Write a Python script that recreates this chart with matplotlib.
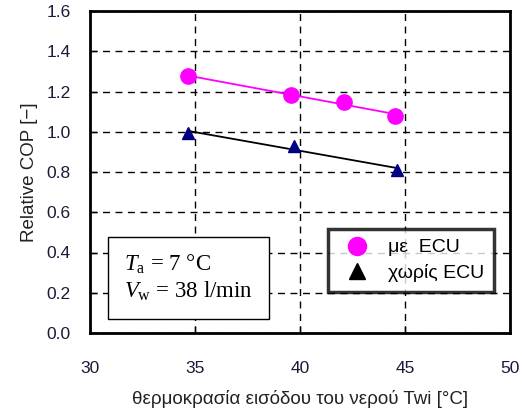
import numpy as np
import matplotlib
matplotlib.use("Agg")
import matplotlib.pyplot as plt
from matplotlib.lines import Line2D

plt.rcParams['font.family'] = ['Liberation Sans', 'DejaVu Sans']
plt.rcParams['mathtext.fontset'] = 'custom'
plt.rcParams['mathtext.rm'] = 'Liberation Serif'
plt.rcParams['mathtext.it'] = 'Liberation Serif:italic'

x_ecu = [34.65, 39.57, 42.1, 44.52]
y_ecu = [1.277, 1.183, 1.146, 1.080]
x_noecu = [34.68, 39.71, 44.64]
y_noecu = [0.995, 0.929, 0.810]

xticks = [30, 35, 40, 45, 50]
yticks = [0.0, 0.2, 0.4, 0.6, 0.8, 1.0, 1.2, 1.4, 1.6]

label_ecu = "με  ECU"
label_noecu = "χωρίς ECU"
xlabel = "θερμοκρασία εισόδου του νερού Twi [°C]"
ylabel = "Relative COP [−]"

fig = plt.figure(figsize=(5.22, 4.16), dpi=100)
ax = fig.add_axes([90/522, 1-333/416, 420/522, 322/416])

tick_color = '#1a1a3a'

# trend lines
for xs, ys, c in [(x_ecu, y_ecu, '#ff00ff'), (x_noecu, y_noecu, 'black')]:
    p = np.polyfit(xs, ys, 1)
    xx = np.array([min(xs), max(xs)])
    ax.plot(xx, np.polyval(p, xx), color=c, lw=1.3, zorder=3)

ax.plot(x_ecu, y_ecu, 'o', color='#ff00ff', ms=11, zorder=4, mec='#ff00ff')
ax.plot(x_noecu, y_noecu, '^', color='#000080', ms=9, zorder=4)

ax.set_xlim(30, 50)
ax.set_ylim(0, 1.6)
ax.set_xticks(xticks)
ax.set_yticks(yticks)
ax.set_xticklabels([str(t) for t in xticks])
ax.set_yticklabels([f"{t:.1f}" for t in yticks])
ax.tick_params(direction='in', length=5, width=1, labelsize=12.5, colors='black',
               labelcolor=tick_color)
ax.tick_params(axis='x', pad=20)
ax.tick_params(axis='y', pad=14)
ax.grid(True, color='black', ls=(0, (5, 4)), lw=1.0)
for s in ax.spines.values():
    s.set_linewidth(2)

ax.set_xlabel(xlabel, fontsize=13.5, color='#222222', labelpad=10)
ax.set_ylabel(ylabel, fontsize=13.5, color='#222222', labelpad=6)

# legend
handles = [Line2D([], [], marker='o', color='#ff00ff', ls='none', ms=13),
           Line2D([], [], marker='^', color='black', ls='none', ms=11)]
leg = ax.legend(handles, [label_ecu, label_noecu], loc='lower right',
                bbox_to_anchor=((494-90)/420, (333-292)/322), fontsize=14,
                frameon=True, fancybox=False, edgecolor='black',
                handletextpad=0.6, borderpad=0.5, labelspacing=0.4,
                handlelength=2.0, borderaxespad=0)
leg.get_frame().set_linewidth(2.5)

# condition box
txt = "$T_\\mathrm{a}$ = 7 °C\n$V_\\mathrm{w}$ = 38 l/min"
ax.text((106-90)/420 + 0.043, (333-278)/322, txt, transform=ax.transAxes,
        fontsize=16.5, family='Liberation Serif', va='center', ha='left',
        linespacing=1.2, zorder=5,
        bbox=dict(boxstyle='square,pad=0.7', fc='white', ec='black', lw=1))

fig.savefig("out.png", dpi=100, facecolor='white')
